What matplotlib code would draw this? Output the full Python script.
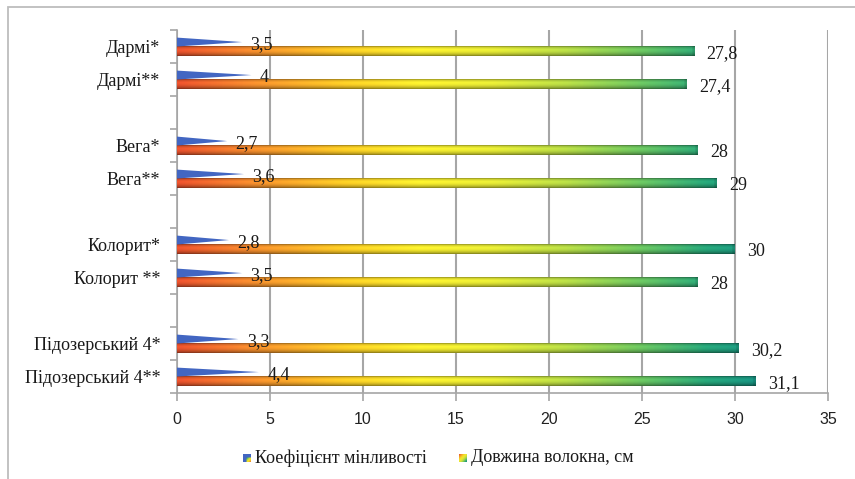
import numpy as np
import matplotlib
matplotlib.use("Agg")
import matplotlib.pyplot as plt
from matplotlib.colors import LinearSegmentedColormap
from matplotlib.patches import Rectangle

# ---- data (top to bottom, None = spacer slot) ----
categories = ["Дармі*", "Дармі**", "", "Вега*", "Вега**", "", "Колорит*", "Колорит **", "",
              "Підозерський 4*", "Підозерський 4**"]
cv_values = [3.5, 4.0, None, 2.7, 3.6, None, 2.8, 3.5, None, 3.3, 4.4]
fiber_values = [27.8, 27.4, None, 28.0, 29.0, None, 30.0, 28.0, None, 30.2, 31.1]
cv_labels = ["3,5", "4", None, "2,7", "3,6", None, "2,8", "3,5", None, "3,3", "4,4"]
fiber_labels = ["27,8", "27,4", None, "28", "29", None, "30", "28", None, "30,2", "31,1"]
series_names = ["Коефіцієнт мінливості", "Довжина волокна, см"]
xticks = [0, 5, 10, 15, 20, 25, 30, 35]

W, H = 855, 479
fig = plt.figure(figsize=(W / 100, H / 100), dpi=100)
fig.patch.set_facecolor("white")

# chart border (cropped at right/bottom)
fig.add_artist(Rectangle((8 / W, -0.05), 1.2, 1 - 7 / H + 0.05, transform=fig.transFigure,
                         fill=False, edgecolor="#bdbdbd", linewidth=1.3))

ax = fig.add_axes([177 / W, 1 - 393 / H, (828 - 177) / W, (393 - 30) / H])
ax.set_xlim(0, 35)
n = len(categories)
ax.set_ylim(n - 0.5, -0.5)

grid_c = "#a6a6a6"
for s in ["top", "right"]:
    ax.spines[s].set_visible(False)
for s in ["left", "bottom"]:
    ax.spines[s].set_color(grid_c)
    ax.spines[s].set_linewidth(1.2)
ax.set_xticks(xticks)
ax.xaxis.grid(True, color=grid_c, linewidth=1.5)
ax.set_axisbelow(True)
ax.tick_params(axis="x", length=6, color=grid_c, width=1.2, labelsize=11.5, pad=8)
for lab in ax.get_xticklabels():
    lab.set_fontfamily("Liberation Sans")
    lab.set_color("#222222")

# y: boundary ticks (major) and label ticks (minor)
ax.set_yticks(np.arange(-0.5, n, 1.0))
ax.set_yticklabels([])
ax.tick_params(axis="y", which="major", length=5, color=grid_c, width=1.2)
ax.set_yticks(np.arange(n), minor=True)
ax.set_yticklabels(categories, minor=True, fontfamily="Liberation Serif", fontsize=13, color="#1a1a1a")
ax.tick_params(axis="y", which="minor", length=0, pad=12)

# bar gradient colormap (absolute along x)
stops = [(0, "#e4502c"), (4, "#ef8a2c"), (9, "#f6c824"), (13, "#f3e82c"), (17, "#e0e434"),
         (21, "#b2d644"), (25, "#68c05e"), (28.5, "#26a276"), (31.5, "#168e80")]
cmap = LinearSegmentedColormap.from_list("fib", [(p / 31.5, c) for p, c in stops])

idx = [i for i, v in enumerate(fiber_values) if v is not None]
fv = [fiber_values[i] for i in idx]
cv = [cv_values[i] for i in idx]

bar_h = 0.29
bars = ax.barh([i + bar_h / 2 + 0.005 for i in idx], fv, height=bar_h, color="none", zorder=3)

ny = 40
t = np.linspace(0, 1, ny)
shade = np.interp(t, [0, 0.12, 0.35, 0.6, 0.85, 1.0], [0.62, 0.92, 1.08, 1.0, 0.8, 0.55])
for b in bars:
    x0, y0, w, h = b.get_x(), b.get_y(), b.get_width(), b.get_height()
    xs = np.linspace(x0, x0 + w, 400)
    cols = cmap(np.clip(xs / 31.5, 0, 1))[:, :3]
    img = np.clip(cols[None, :, :] * shade[:, None, None], 0, 1)
    img[:, -2:, :] *= 0.88
    ax.imshow(img, extent=(x0, x0 + w, y0 + h, y0), aspect="auto", zorder=3, interpolation="bilinear")
ax.set_xlim(0, 35)
ax.set_ylim(n - 0.5, -0.5)

# cones (coefficient of variation)
cone_h = 0.27
for i, v in zip(idx, cv):
    top, bot = i - cone_h, i
    ax.fill([0, v, 0], [top, top + 0.5 * cone_h, bot], color="#4266c2", linewidth=0, zorder=4)

# labels
for i in idx:
    ax.annotate(cv_labels[i], (cv_values[i], i - 0.07), xytext=(6, 0), textcoords="offset points",
                ha="left", va="center", fontfamily="Liberation Serif", fontsize=13, color="#1a1a1a", zorder=6)
    ax.annotate(fiber_labels[i], (fiber_values[i], i + 0.21), xytext=(9, 0), textcoords="offset points",
                ha="left", va="center", fontfamily="Liberation Serif", fontsize=13, color="#1a1a1a", zorder=6)

# legend (manual)
def legend_square(x, y, arr):
    a = fig.add_axes([x / W, 1 - (y + 8) / H, 8 / W, 8 / H])
    a.imshow(arr, extent=(0, 1, 0, 1), interpolation="bilinear")
    a.set_axis_off()

g = np.linspace(0, 1, 16)
X, Y = np.meshgrid(g, g)
d = (X + Y) / 2
sq2 = cmap(d)[:, :, :3]
sq1 = np.ones((16, 16, 3)) * np.array([0.26, 0.40, 0.76])
corner = (X > 0.45) & (Y > 0.45)
sq1[corner] = cmap(np.clip((X[corner] + Y[corner] - 0.9) / 1.1 * 0.9 + 0.05, 0, 1)[::-1])[:, :3]
legend_square(243, 454, sq1)
legend_square(459, 454, sq2)
fig.text(255 / W, 1 - 458 / H, series_names[0], ha="left", va="center",
         fontfamily="Liberation Serif", fontsize=13, color="#1a1a1a")
fig.text(471 / W, 1 - 458 / H, series_names[1], ha="left", va="center",
         fontfamily="Liberation Serif", fontsize=13, color="#1a1a1a")

fig.savefig("out.png", dpi=100, facecolor="white")
